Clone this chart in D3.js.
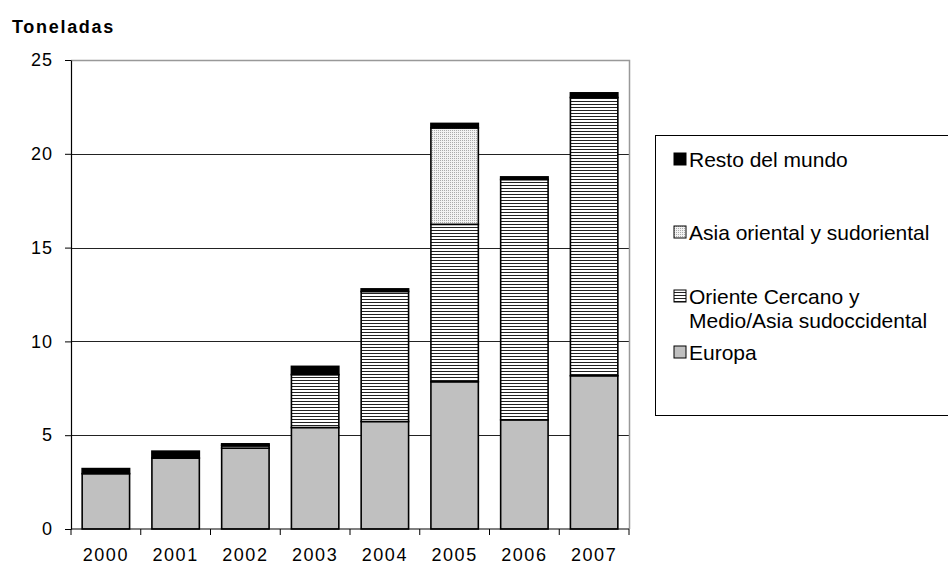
<!DOCTYPE html>
<html>
<head>
<meta charset="utf-8">
<script src="https://cdn.jsdelivr.net/npm/d3@7"></script>
<style>
  body { margin: 0; background: #fff; }
  svg text { font-family: "Liberation Sans", Arial, sans-serif; fill: #000; }
</style>
</head>
<body>
<svg id="chart" width="948" height="567"></svg>
<script>
// values (toneladas)
const years = ["2000", "2001", "2002", "2003", "2004", "2005", "2006", "2007"];
const europa = [2.95, 3.78, 4.31, 5.41, 5.73, 7.85, 5.82, 8.17];
const orienteMedio = [0, 0, 0.15, 2.82, 6.93, 8.39, 12.81, 14.83];
const asiaOriental = [0, 0, 0, 0, 0, 5.14, 0, 0];
const resto = [0.27, 0.37, 0.08, 0.44, 0.14, 0.24, 0.14, 0.25];
const yTicks = [0, 5, 10, 15, 20, 25];

const seriesKeys = ["europa", "oriente", "asia", "resto"];
const seriesNames = {
    resto: ["Resto del mundo"],
    asia: ["Asia oriental y sudoriental"],
    oriente: ["Oriente Cercano y", "Medio/Asia sudoccidental"],
    europa: ["Europa"]
};
const fills = {
    europa: "#c0c0c0",
    oriente: "url(#hlines)",
    asia: "url(#dots)",
    resto: "#000"
};

const rows = years.map((y, i) => ({
    year: y,
    europa: europa[i],
    oriente: orienteMedio[i],
    asia: asiaOriental[i],
    resto: resto[i]
}));

const svg = d3.select("#chart");
const plotLeft = 71, plotRight = 629, plotTop = 60, plotBottom = 529;

// patterns
let defs = svg.append("defs");
let hl = defs.append("pattern").attr("id", "hlines")
    .attr("patternUnits", "userSpaceOnUse").attr("width", 6).attr("height", 3);
hl.append("rect").attr("width", 6).attr("height", 3).attr("fill", "#fff");
hl.append("rect").attr("y", 2).attr("width", 6).attr("height", 1).attr("fill", "#222");
let dt = defs.append("pattern").attr("id", "dots")
    .attr("patternUnits", "userSpaceOnUse").attr("width", 2).attr("height", 2);
dt.append("rect").attr("width", 2).attr("height", 2).attr("fill", "#f2f2f2");
dt.append("rect").attr("width", 1).attr("height", 1).attr("fill", "#aaa");

const x = d3.scaleBand().domain(years).range([plotLeft, plotRight]).paddingInner(0.32).paddingOuter(0.16);
const xTickScale = d3.scaleBand().domain(years).range([plotLeft, plotRight]);
const y = d3.scaleLinear().domain([0, 25]).range([plotBottom, plotTop]);

// gridlines
svg.append("g").selectAll("line").data(yTicks.filter(t => t > 0 && t < 25)).join("line")
    .attr("x1", plotLeft).attr("x2", plotRight)
    .attr("y1", d => Math.round(y(d)) + 0.5).attr("y2", d => Math.round(y(d)) + 0.5)
    .attr("stroke", "#222").attr("stroke-width", 1);

// frame top / right (gray)
svg.append("path")
    .attr("d", `M${plotLeft},${plotTop + 0.5}H${plotRight + 0.5}V${plotBottom}`)
    .attr("fill", "none").attr("stroke", "#999").attr("stroke-width", 1.5);

// stacked bars
const stack = d3.stack().keys(seriesKeys)(rows);
svg.append("g").selectAll("g").data(stack).join("g")
    .attr("fill", d => fills[d.key])
    .selectAll("rect").data(d => d.filter(p => p[1] - p[0] > 0)).join("rect")
    .attr("x", d => x(d.data.year))
    .attr("width", x.bandwidth())
    .attr("y", d => y(d[1]))
    .attr("height", d => y(d[0]) - y(d[1]))
    .attr("stroke", "#000").attr("stroke-width", 1.6);

// y axis
const yAxis = svg.append("g").attr("transform", `translate(${plotLeft},0)`)
    .call(d3.axisLeft(y).tickValues(yTicks).tickSize(6).tickSizeOuter(0));
yAxis.select(".domain").attr("stroke", "#000").attr("stroke-width", 1.2);
yAxis.selectAll(".tick line").attr("stroke", "#000");
yAxis.selectAll("text").attr("font-size", 18).attr("x", -18).attr("letter-spacing", 1)
    .style("font-family", "Liberation Sans, Arial, sans-serif");

// x axis: ticks at category boundaries
const xAxis = svg.append("g").attr("transform", `translate(0,${plotBottom})`);
xAxis.append("line").attr("x1", plotLeft).attr("x2", plotRight)
    .attr("stroke", "#000").attr("stroke-width", 1.2);
xAxis.selectAll(".bt").data(years.concat(["end"])).join("line")
    .attr("x1", d => d === "end" ? plotRight : xTickScale(d))
    .attr("x2", d => d === "end" ? plotRight : xTickScale(d))
    .attr("y1", 0).attr("y2", 6).attr("stroke", "#000");
xAxis.selectAll("text").data(years).join("text")
    .attr("x", d => xTickScale(d) + xTickScale.bandwidth() / 2)
    .attr("y", 32)
    .attr("text-anchor", "middle")
    .attr("font-size", 18)
    .attr("letter-spacing", 1.6)
    .text(d => d);

// axis title
svg.append("text").attr("x", 12).attr("y", 33)
    .attr("font-size", 18).attr("font-weight", "bold").attr("letter-spacing", 1.7)
    .text("Toneladas");

// legend
const lg = svg.append("g");
lg.append("rect").attr("x", 655.5).attr("y", 135.5).attr("width", 320).attr("height", 280)
    .attr("fill", "#fff").attr("stroke", "#000").attr("stroke-width", 1);
const legendItems = ["resto", "asia", "oriente", "europa"];
const legendY = { resto: 159, asia: 232, oriente: 296, europa: 352 };
const li = lg.selectAll("g.item").data(legendItems).join("g")
    .attr("transform", d => `translate(674,${legendY[d]})`);
li.append("rect").attr("x", 0).attr("y", -6).attr("width", 12).attr("height", 12)
    .attr("fill", d => fills[d]).attr("stroke", "#000").attr("stroke-width", 1);
li.append("text").attr("x", 15).attr("y", 7.5).attr("font-size", 21)
    .selectAll("tspan").data(d => seriesNames[d]).join("tspan")
    .attr("x", 15).attr("dy", (d, i) => i === 0 ? 0 : 24)
    .text(d => d);
</script>
</body>
</html>
